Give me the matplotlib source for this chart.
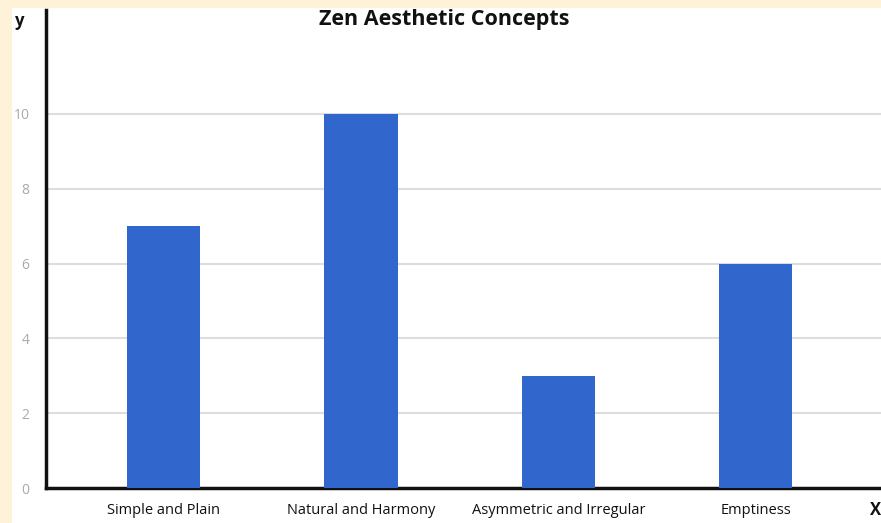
import matplotlib
matplotlib.use("Agg")
import matplotlib.pyplot as plt
from matplotlib.patches import Rectangle

categories = ["Simple and Plain", "Natural and Harmony", "Asymmetric and Irregular", "Emptiness"]
values = [7, 10, 3, 6]
yticks = [0, 2, 4, 6, 8, 10]

plt.rcParams['font.family'] = ['Open Sans', 'DejaVu Sans']

W, H = 881, 523
fig = plt.figure(figsize=(W/100, H/100), dpi=100)
fig.patch.set_facecolor("#FEF3D8")
bg = Rectangle((12/W, 0), 1 - 12/W, 1 - 8/H, transform=fig.transFigure,
               facecolor="white", edgecolor="none", zorder=-10)
fig.patches.append(bg)

ax = fig.add_axes([46/W, 1 - 488/H, 1 - 46/W, (488 - 10)/H])
ax.set_zorder(5)
ax.set_facecolor("none")
x = list(range(len(categories)))
ax.bar(x, values, width=0.372, color="#3166CC", zorder=3)
ax.set_xlim(-0.595, 3.635)
ax.set_ylim(0, 12.78)
ax.set_yticks(yticks)
ax.set_yticklabels([str(t) for t in yticks], color="#AAAAAA", fontsize=10)
ax.set_xticks(x)
ax.set_xticklabels(categories, fontsize=10.5, color="#111111")
ax.tick_params(axis='both', length=0)
ax.tick_params(axis='y', pad=12)
ax.tick_params(axis='x', pad=10.5)
for t in yticks[1:]:
    ax.axhline(t, color="#DDDDDD", linewidth=1.5, zorder=1)
for s in ["top", "right"]:
    ax.spines[s].set_visible(False)
ax.spines["left"].set_linewidth(2.5)
ax.spines["bottom"].set_linewidth(2.5)
ax.spines["left"].set_color("#111111")
ax.spines["bottom"].set_color("#111111")

fig.text(444/W, 1 - 20/H, "Zen Aesthetic Concepts", ha="center", va="center",
         fontsize=15.5, fontweight="bold", color="#111111", zorder=10)
fig.text(20/W, 1 - 21/H, "y", ha="center", va="center", fontsize=12, fontweight="bold", color="#111111", zorder=10)
fig.text(876/W, 1 - 510/H, "X", ha="center", va="center", fontsize=12, fontweight="bold", color="#111111", zorder=10)

fig.savefig("out.png", dpi=100, facecolor=fig.get_facecolor())
